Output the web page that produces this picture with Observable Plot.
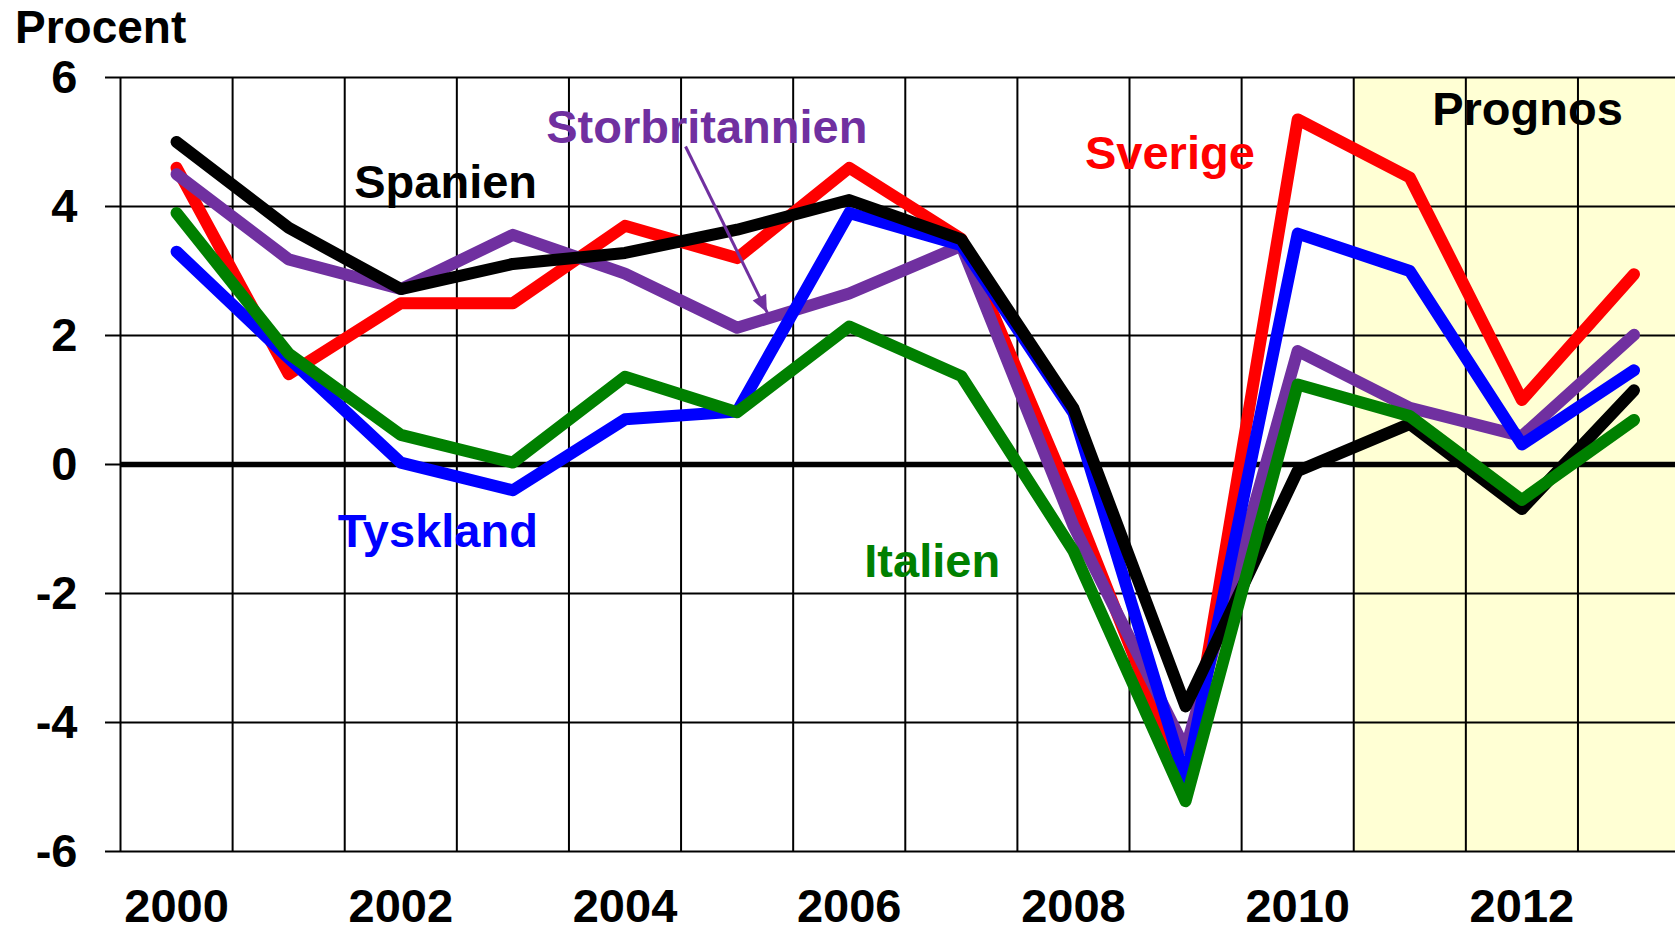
<!DOCTYPE html>
<html>
<head>
<meta charset="utf-8">
<script src="https://cdn.jsdelivr.net/npm/d3@7"></script>
<script src="https://cdn.jsdelivr.net/npm/@observablehq/plot@0.6"></script>
<style>
  html, body { margin: 0; padding: 0; background: #ffffff; overflow: hidden; }
  #wrap { position: relative; width: 1675px; height: 932px; }
  #wrap svg { display: block; }
  #procent {
    position: absolute; left: 15px; top: 10px;
    font: bold 46px "Liberation Sans", Arial, sans-serif; line-height: 34px; color: #000;
  }
</style>
</head>
<body>
<div id="wrap"><div id="procent">Procent</div></div>
<script>
// ---- Data (BNP-tillväxt, procent) ----
const years = [2000, 2001, 2002, 2003, 2004, 2005, 2006, 2007, 2008, 2009, 2010, 2011, 2012, 2013];
const sverige        = [4.6, 1.4, 2.5, 2.5, 3.7, 3.2, 4.6, 3.5, -0.6, -5.0, 5.35, 4.45, 1.0, 2.95];
const storbritannien = [4.5, 3.18, 2.72, 3.56, 2.96, 2.12, 2.65, 3.39, -0.95, -4.42, 1.76, 0.88, 0.44, 2.01];
const tyskland       = [3.3, 1.65, 0.03, -0.4, 0.7, 0.82, 3.9, 3.4, 0.8, -4.9, 3.58, 3.0, 0.31, 1.46];
const spanien        = [5.0, 3.67, 2.72, 3.11, 3.28, 3.64, 4.1, 3.49, 0.87, -3.75, -0.1, 0.63, -0.69, 1.15];
const italien        = [3.9, 1.72, 0.46, 0.03, 1.36, 0.81, 2.14, 1.37, -1.34, -5.22, 1.24, 0.75, -0.55, 0.69];

const yTicks = [-6, -4, -2, 0, 2, 4, 6];
const xTickLabels = [2000, 2002, 2004, 2006, 2008, 2010, 2012];
const forecastYears = [2011, 2012, 2013];

// drawing order (bottom -> top)
const seriesNames  = ["Sverige", "Storbritannien", "Tyskland", "Spanien", "Italien"];
const seriesValues = [sverige, storbritannien, tyskland, spanien, italien];
const seriesColors = ["#ff0000", "#7030a0", "#0000ff", "#000000", "#008000"];

// annotations (data coordinates)
const labelNames = ["Storbritannien", "Spanien", "Sverige", "Tyskland", "Italien"];
const labelYears = [2004.73, 2002.40, 2008.86, 2002.33, 2006.74];
const labelVals  = [5.22, 4.36, 4.81, -1.05, -1.51];
const labelColors = ["#7030a0", "#000000", "#ff0000", "#0000ff", "#008000"];
const arrowFrom = [2004.54, 4.93];
const arrowTo   = [2005.27, 2.35];
const prognosText = "Prognos";
const prognosPos = [2012.05, 5.50];

// ---- Build ----
const rows = (name, vals) => years.map((year, i) => ({year, value: vals[i], country: name}));
const lineMarks = seriesNames.map((name, i) =>
  Plot.line(rows(name, seriesValues[i]), {
    x: "year", y: "value", stroke: seriesColors[i], strokeWidth: 12,
    strokeLinejoin: "round", strokeLinecap: "round"
  })
);
const labelData = labelNames.map((t, i) => ({text: t, x: labelYears[i], y: labelVals[i], color: labelColors[i]}));

const plot = Plot.plot({
  width: 1675,
  height: 932,
  marginLeft: 120,
  marginRight: 0,
  marginTop: 77,
  marginBottom: 81,
  style: {
    fontFamily: '"Liberation Sans", Arial, sans-serif',
    fontSize: "47px",
    fontWeight: "bold",
    background: "#ffffff",
    color: "#000000",
    overflow: "hidden"
  },
  x: {type: "linear", domain: [1999.5, 2013.37]},
  y: {domain: [yTicks[0], yTicks[yTicks.length - 1]]},
  marks: [
    Plot.rect([{x1: forecastYears[0] - 0.5, x2: forecastYears[forecastYears.length - 1] + 0.5}],
      {x1: "x1", x2: "x2", fill: "#ffffd4", clip: true}),
    Plot.ruleX(years.map(y => y - 0.5), {stroke: "#000", strokeWidth: 2}),
    Plot.ruleY(yTicks, {stroke: "#000", strokeWidth: 2}),
    Plot.ruleY([0], {stroke: "#000", strokeWidth: 5.5}),
    Plot.axisY(yTicks, {tickSize: 15, tickPadding: 28, tickFormat: d => String(d), strokeWidth: 2, label: null}),
    Plot.axisX(xTickLabels, {tickSize: 0, tickPadding: 37, tickFormat: d => String(d), label: null}),
    ...lineMarks,
    Plot.link([{x1: arrowFrom[0], y1: arrowFrom[1], x2: arrowTo[0], y2: arrowTo[1]}],
      {x1: "x1", y1: "y1", x2: "x2", y2: "y2", stroke: "#7030a0", strokeWidth: 3}),
    Plot.text(labelData, {x: "x", y: "y", text: "text", fill: "color", ariaLabel: "series-label"}),
    Plot.text([{text: prognosText, x: prognosPos[0], y: prognosPos[1]}], {x: "x", y: "y", text: "text", fill: "#000"})
  ]
});

const wrap = document.getElementById("wrap");
wrap.insertBefore(plot, wrap.firstChild);
const NS = "http://www.w3.org/2000/svg";

// white boxes behind the series labels
plot.querySelectorAll('g[aria-label="series-label"] text').forEach(t => {
  const b = t.getBBox();
  const r = document.createElementNS(NS, "rect");
  r.setAttribute("x", b.x - 4);
  r.setAttribute("y", b.y - 2);
  r.setAttribute("width", b.width + 8);
  r.setAttribute("height", b.height + 4);
  r.setAttribute("fill", "#ffffff");
  const tr = t.getAttribute("transform");
  if (tr) r.setAttribute("transform", tr);
  t.parentNode.insertBefore(r, t);
});

// filled arrowhead, placed through the plot's own scales
const sx = plot.scale("x"), sy = plot.scale("y");
const ax0 = sx.apply(arrowFrom[0]), ay0 = sy.apply(arrowFrom[1]);
const ax1 = sx.apply(arrowTo[0]),   ay1 = sy.apply(arrowTo[1]);
const len = Math.hypot(ax1 - ax0, ay1 - ay0);
const ux = (ax1 - ax0) / len, uy = (ay1 - ay0) / len;
const headL = 17, headW = 7.5;
const bx = ax1 - ux * headL, by = ay1 - uy * headL;
const poly = document.createElementNS(NS, "polygon");
poly.setAttribute("points", [
  [ax1, ay1],
  [bx - uy * headW, by + ux * headW],
  [bx + uy * headW, by - ux * headW]
].map(p => p.join(",")).join(" "));
poly.setAttribute("fill", "#7030a0");
plot.appendChild(poly);
</script>
</body>
</html>
